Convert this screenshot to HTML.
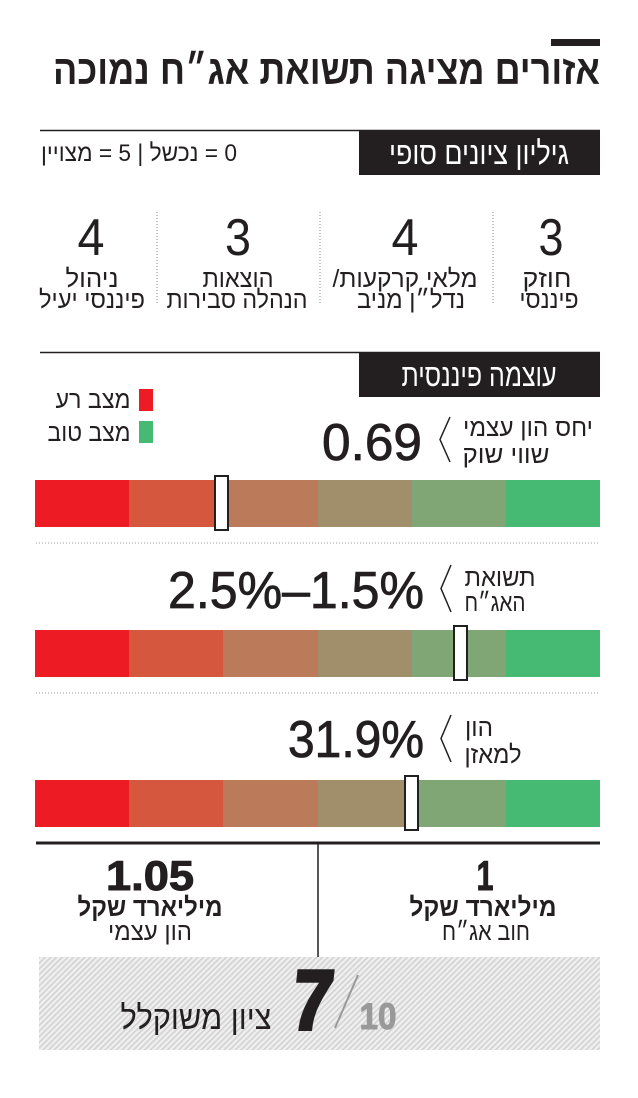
<!DOCTYPE html>
<html><head><meta charset="utf-8"><style>
html,body{margin:0;padding:0;background:#fff;}
svg{display:block;}
text{font-family:"Liberation Sans","DejaVu Sans",sans-serif;}
.rtl{direction:rtl;unicode-bidi:embed;}
</style></head><body>
<svg width="638" height="1098" viewBox="0 0 638 1098" xmlns="http://www.w3.org/2000/svg">
<defs>
<pattern id="hatch" width="4" height="4" patternUnits="userSpaceOnUse" patternTransform="rotate(45)">
<rect width="4" height="4" fill="#efefef"/>
<rect width="1.6" height="4" fill="#d2d2d2"/>
</pattern>
</defs>
<rect x="551" y="39" width="49" height="7" fill="#231f20"/>
<text x="326.5" y="84" font-size="41" font-weight="bold" text-anchor="middle" textLength="547" lengthAdjust="spacingAndGlyphs" fill="#231f20">אזורים מציגה תשואת אג״ח נמוכה</text>

<line x1="40" y1="130.5" x2="600" y2="130.5" stroke="#231f20" stroke-width="1.5"/>
<rect x="359" y="130" width="241" height="45" fill="#231f20"/>
<text x="479" y="164" font-size="32" fill="#fff" text-anchor="middle" textLength="180" lengthAdjust="spacingAndGlyphs">גיליון ציונים סופי</text>
<text class="rtl" x="139" y="161" font-size="24" fill="#231f20" text-anchor="middle" textLength="196" lengthAdjust="spacingAndGlyphs">0 = נכשל | 5 = מצויין</text>

<g stroke="#888" stroke-width="1" stroke-dasharray="1,2">
<line x1="157" y1="212" x2="157" y2="305"/>
<line x1="320" y1="212" x2="320" y2="305"/>
<line x1="493" y1="212" x2="493" y2="305"/>
</g>
<g fill="#231f20" font-size="52" text-anchor="middle">
<text x="551" y="255" textLength="25" lengthAdjust="spacingAndGlyphs">3</text>
<text x="405" y="255" textLength="27" lengthAdjust="spacingAndGlyphs">4</text>
<text x="238" y="255" textLength="26" lengthAdjust="spacingAndGlyphs">3</text>
<text x="91" y="255" textLength="27" lengthAdjust="spacingAndGlyphs">4</text>
</g>
<g fill="#231f20" font-size="25" text-anchor="middle">
<text x="547" y="287" textLength="49" lengthAdjust="spacingAndGlyphs">חוזק</text>
<text x="549" y="308" textLength="59" lengthAdjust="spacingAndGlyphs">פיננסי</text>
<text class="rtl" x="405" y="287" textLength="145" lengthAdjust="spacingAndGlyphs">מלאי קרקעות/</text>
<text x="411" y="308" textLength="108" lengthAdjust="spacingAndGlyphs">נדל״ן מניב</text>
<text x="238" y="287" textLength="71" lengthAdjust="spacingAndGlyphs">הוצאות</text>
<text x="237" y="308" textLength="141" lengthAdjust="spacingAndGlyphs">הנהלה סבירות</text>
<text x="92" y="287" textLength="53" lengthAdjust="spacingAndGlyphs">ניהול</text>
<text x="92" y="308" textLength="106" lengthAdjust="spacingAndGlyphs">פיננסי יעיל</text>
</g>

<line x1="40" y1="352.5" x2="600" y2="352.5" stroke="#231f20" stroke-width="1.5"/>
<rect x="359" y="352" width="241" height="45" fill="#231f20"/>
<text x="479" y="386" font-size="32" fill="#fff" text-anchor="middle" textLength="155" lengthAdjust="spacingAndGlyphs">עוצמה פיננסית</text>
<rect x="139" y="389" width="14" height="22" fill="#ed1c24"/>
<rect x="139" y="421" width="14" height="22" fill="#46b973"/>
<g fill="#231f20" font-size="25" text-anchor="middle">
<text x="93" y="408" textLength="75" lengthAdjust="spacingAndGlyphs">מצב רע</text>
<text x="89" y="441" textLength="83" lengthAdjust="spacingAndGlyphs">מצב טוב</text>
<text x="528" y="436" textLength="130" lengthAdjust="spacingAndGlyphs">יחס הון עצמי</text>
<text x="506" y="463" textLength="87" lengthAdjust="spacingAndGlyphs">שווי שוק</text>
<text x="500" y="586" textLength="71" lengthAdjust="spacingAndGlyphs">תשואת</text>
<text x="495" y="611" textLength="61" lengthAdjust="spacingAndGlyphs">האג״ח</text>
<text x="479" y="736" textLength="28" lengthAdjust="spacingAndGlyphs">הון</text>
<text x="493" y="763" textLength="57" lengthAdjust="spacingAndGlyphs">למאזן</text>
</g>
<g fill="none" stroke="#231f20" stroke-width="1.5">
<polyline points="450,417 440,439.5 450,462"/>
<polyline points="451,565 441,588.5 451,612"/>
<polyline points="451,715 441,738.5 451,762"/>
</g>
<g fill="#231f20" font-size="52" text-anchor="middle" stroke="#231f20" stroke-width="0.8">
<text x="372" y="460" textLength="100" lengthAdjust="spacingAndGlyphs">0.69</text>
<text x="296" y="608" textLength="256" lengthAdjust="spacingAndGlyphs">2.5%–1.5%</text>
<text x="356" y="757" textLength="136" lengthAdjust="spacingAndGlyphs">31.9%</text>
</g>

<g>
<g transform="translate(0,480)">
<rect x="35" width="94" height="47" fill="#ed1c24"/><rect x="129" width="94" height="47" fill="#d4573e"/><rect x="223" width="95" height="47" fill="#bb7a59"/><rect x="318" width="94" height="47" fill="#a08f6a"/><rect x="412" width="94" height="47" fill="#7fa674"/><rect x="506" width="94" height="47" fill="#46b973"/>
</g>
<g transform="translate(0,630)">
<rect x="35" width="94" height="47" fill="#ed1c24"/><rect x="129" width="94" height="47" fill="#d4573e"/><rect x="223" width="95" height="47" fill="#bb7a59"/><rect x="318" width="94" height="47" fill="#a08f6a"/><rect x="412" width="94" height="47" fill="#7fa674"/><rect x="506" width="94" height="47" fill="#46b973"/>
</g>
<g transform="translate(0,780)">
<rect x="35" width="94" height="47" fill="#ed1c24"/><rect x="129" width="94" height="47" fill="#d4573e"/><rect x="223" width="95" height="47" fill="#bb7a59"/><rect x="318" width="94" height="47" fill="#a08f6a"/><rect x="412" width="94" height="47" fill="#7fa674"/><rect x="506" width="94" height="47" fill="#46b973"/>
</g>
</g>
<g fill="#fff" stroke="#231f20" stroke-width="2">
<rect x="215" y="476" width="13" height="54"/>
<rect x="454" y="626" width="13" height="54"/>
<rect x="405" y="776" width="13" height="54"/>
</g>
<g stroke="#999" stroke-width="1" stroke-dasharray="1,2">
<line x1="36" y1="543" x2="600" y2="543"/>
<line x1="36" y1="693" x2="600" y2="693"/>
</g>

<line x1="36" y1="843" x2="600" y2="843" stroke="#231f20" stroke-width="3"/>
<line x1="318" y1="843" x2="318" y2="957" stroke="#231f20" stroke-width="1.5"/>
<g fill="#231f20" text-anchor="middle">
<text x="485" y="890" font-size="42" font-weight="bold" textLength="17" lengthAdjust="spacingAndGlyphs" stroke="#231f20" stroke-width="1">1</text>
<text x="150" y="890" font-size="42" font-weight="bold" textLength="88" lengthAdjust="spacingAndGlyphs" stroke="#231f20" stroke-width="1">1.05</text>
<text x="483" y="916" font-size="26" font-weight="bold" textLength="147" lengthAdjust="spacingAndGlyphs">מיליארד שקל</text>
<text x="150" y="916" font-size="26" font-weight="bold" textLength="145" lengthAdjust="spacingAndGlyphs">מיליארד שקל</text>
<text x="486" y="940" font-size="25" textLength="88" lengthAdjust="spacingAndGlyphs">חוב אג״ח</text>
<text x="150" y="940" font-size="25" textLength="84" lengthAdjust="spacingAndGlyphs">הון עצמי</text>
</g>
<rect x="39" y="957" width="561" height="93" fill="url(#hatch)"/>
<text x="310" y="1029" font-size="84" font-weight="bold" fill="#231f20" stroke="#231f20" stroke-width="4" text-anchor="middle" textLength="40" lengthAdjust="spacingAndGlyphs" transform="skewX(-6) translate(108,0)">7</text>
<line x1="335" y1="1028" x2="358" y2="975" stroke="#999" stroke-width="2"/>
<text x="378" y="1029" font-size="37" font-weight="bold" fill="#999" stroke="#999" stroke-width="1" text-anchor="middle" textLength="37" lengthAdjust="spacingAndGlyphs">10</text>
<text x="196" y="1029" font-size="33" fill="#231f20" text-anchor="middle" textLength="151" lengthAdjust="spacingAndGlyphs">ציון משוקלל</text>
</svg>
</body></html>
